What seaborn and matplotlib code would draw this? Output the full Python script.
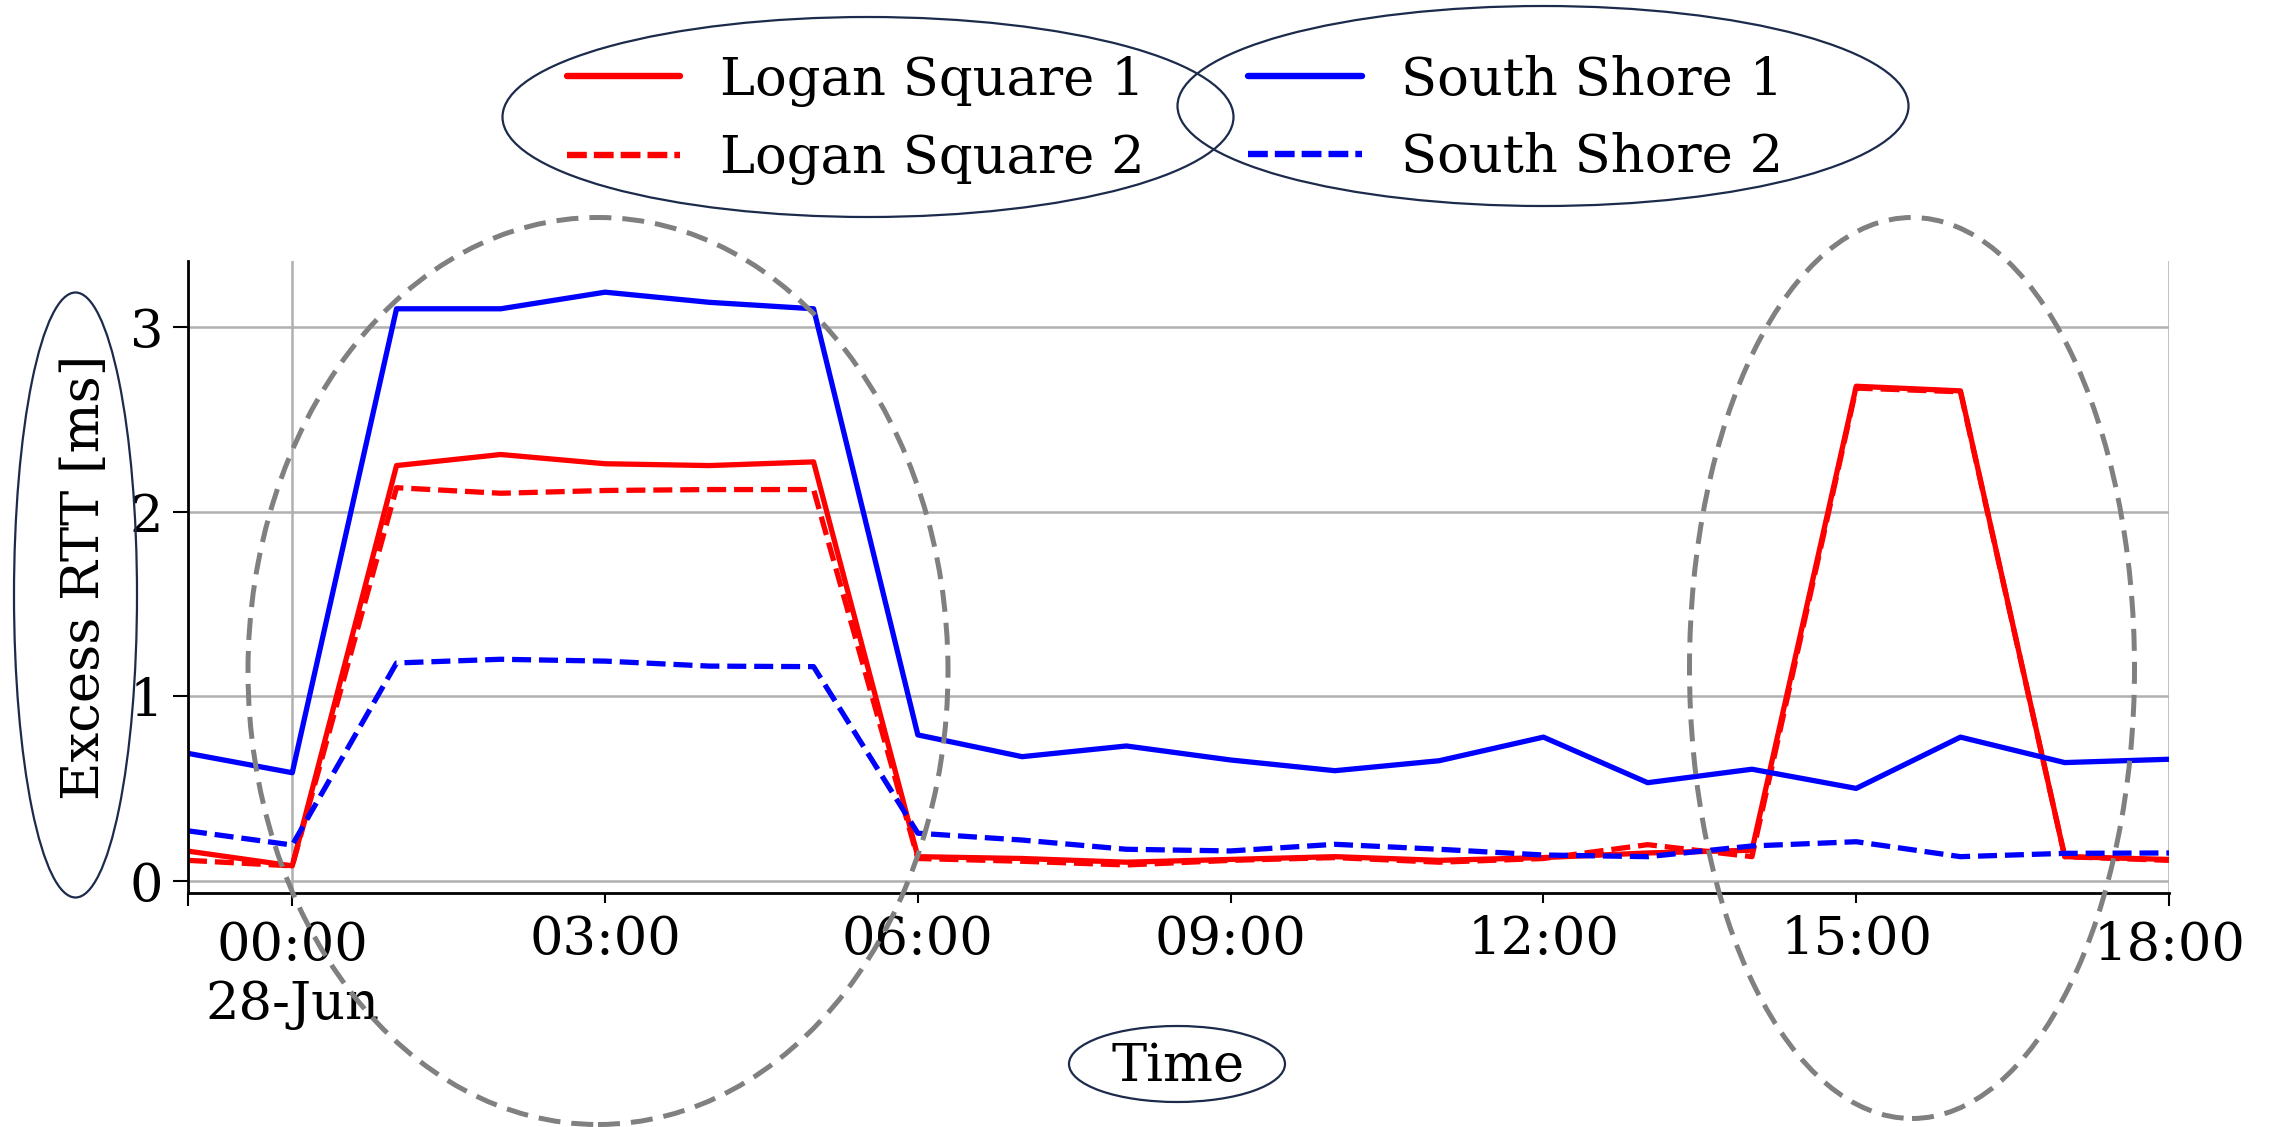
import matplotlib
matplotlib.use("Agg")
import matplotlib.pyplot as plt
import matplotlib.dates as mdates
from matplotlib.lines import Line2D
from matplotlib.patches import Ellipse
from matplotlib.ticker import FixedLocator, FixedFormatter
import numpy as np
import pandas as pd
import seaborn as sns

# Hourly samples, 27-Jun 23:00 .. 28-Jun 18:00
times = pd.date_range("2020-06-27 23:00", "2020-06-28 18:00", freq="h")

series_names = ["Logan Square 1", "Logan Square 2", "South Shore 1", "South Shore 2"]

logan_square_1 = [0.16, 0.08, 2.25, 2.31, 2.26, 2.25, 2.27, 0.13, 0.12, 0.10,
                  0.115, 0.13, 0.11, 0.125, 0.15, 0.165, 2.68, 2.655, 0.13, 0.115]
logan_square_2 = [0.11, 0.08, 2.13, 2.10, 2.115, 2.12, 2.12, 0.12, 0.105, 0.085,
                  0.11, 0.125, 0.10, 0.12, 0.195, 0.13, 2.67, 2.65, 0.13, 0.11]
south_shore_1 = [0.69, 0.585, 3.10, 3.10, 3.19, 3.135, 3.10, 0.79, 0.672, 0.73,
                 0.654, 0.596, 0.65, 0.778, 0.531, 0.604, 0.50, 0.778, 0.64, 0.658]
south_shore_2 = [0.27, 0.193, 1.18, 1.20, 1.19, 1.163, 1.16, 0.257, 0.22, 0.17,
                 0.161, 0.197, 0.17, 0.139, 0.13, 0.188, 0.211, 0.13, 0.148, 0.15]

palette = {"Logan Square 1": "#ff0000", "Logan Square 2": "#ff0000",
           "South Shore 1": "#0000ff", "South Shore 2": "#0000ff"}
dashes = {"Logan Square 1": "", "Logan Square 2": (3.6, 1.5),
          "South Shore 1": "", "South Shore 2": (3.6, 1.5)}

wide = pd.DataFrame({
    "time": times,
    "Logan Square 1": logan_square_1,
    "Logan Square 2": logan_square_2,
    "South Shore 1": south_shore_1,
    "South Shore 2": south_shore_2,
})
long = wide.melt(id_vars="time", var_name="series", value_name="rtt")

sns.set_theme(style="white")
plt.rcParams["font.family"] = ["DejaVu Serif"]
plt.rcParams["text.color"] = "black"
plt.rcParams["axes.labelcolor"] = "black"

FS = 38
W, H = 2270, 1127
fig = plt.figure(figsize=(W / 100, H / 100), dpi=100)
ax = fig.add_axes([188 / W, 1 - 893 / H, (2169 - 188) / W, (893 - 261) / H])

LW = 3.8
sns.lineplot(data=long, x="time", y="rtt", hue="series", style="series",
             hue_order=series_names, style_order=series_names,
             palette=palette, dashes=dashes, linewidth=LW, ax=ax, legend=False)

# axes limits and ticks
ax.set_xlim(times[0], times[-1])
ax.set_ylim(-0.067, 3.359)
ax.set_yticks([0, 1, 2, 3])
ax.set_yticklabels(["0", "1", "2", "3"])

def dnum(s):
    return mdates.date2num(pd.Timestamp(s).to_pydatetime())

major_pos = [dnum("2020-06-27 23:00"), dnum("2020-06-28 00:00"), dnum("2020-06-28 18:00")]
major_lab = ["", "00:00\n28-Jun", "18:00"]
minor_pos = [dnum(f"2020-06-28 {h:02d}:00") for h in (3, 6, 9, 12, 15)]
minor_lab = [f"{h:02d}:00" for h in (3, 6, 9, 12, 15)]
ax.xaxis.set_major_locator(FixedLocator(major_pos))
ax.xaxis.set_major_formatter(FixedFormatter(major_lab))
ax.xaxis.set_minor_locator(FixedLocator(minor_pos))
ax.xaxis.set_minor_formatter(FixedFormatter(minor_lab))

ax.tick_params(axis="x", which="major", bottom=True, length=9.5, width=1.5,
               color="black", labelsize=FS, pad=10, labelcolor="black")
ax.tick_params(axis="x", which="minor", bottom=True, length=7, width=1.5,
               color="black", labelsize=FS, pad=8, labelcolor="black")
ax.tick_params(axis="y", which="major", left=True, length=11, width=1.5,
               color="black", labelsize=FS, pad=7, labelcolor="black")
for lab in ax.get_xticklabels(which="major"):
    lab.set_multialignment("center")

ax.set_axisbelow(True)
ax.grid(True, which="major", axis="both", color="#b0b0b0", linewidth=1.8)

for side in ("top", "right"):
    ax.spines[side].set_visible(False)
for side in ("left", "bottom"):
    ax.spines[side].set_color("black")
    ax.spines[side].set_linewidth(2.0)

ax.set_ylabel("Excess RTT [ms]", fontsize=FS, color="black")
ax.yaxis.set_label_coords((85 - 188) / (2169 - 188), 0.5)
ax.yaxis.label.set_verticalalignment("center")
ax.set_xlabel("Time", fontsize=FS, color="black")
ax.xaxis.set_label_coords(0.5, (893 - 1067) / (893 - 261))
ax.xaxis.label.set_verticalalignment("center")

# legend above the plot, two columns
handles = [Line2D([], [], color=palette[n], linewidth=4.6,
                  linestyle="-" if dashes[n] == "" else (0, (3.1, 1.1)))
           for n in series_names]
fig.legend(handles, series_names, ncol=2, loc="center",
           bbox_to_anchor=(1175 / W, 1 - 120 / H), frameon=False,
           fontsize=FS, handlelength=2.15, columnspacing=1.97,
           labelspacing=0.5, handletextpad=0.74, labelcolor="black")

# highlight ellipses (figure pixel coordinates)
def fig_ellipse(cx, cy, w, h, **kw):
    e = Ellipse((cx / W, 1 - cy / H), w / W, h / H, transform=fig.transFigure,
                fill=False, clip_on=False, **kw)
    fig.add_artist(e)

navy = "#1c2b4b"
fig_ellipse(868, 117, 731, 200, edgecolor=navy, linewidth=1.6, zorder=5)
fig_ellipse(1543, 106, 731, 200, edgecolor=navy, linewidth=1.6, zorder=5)
fig_ellipse(75.5, 595, 123, 605, edgecolor=navy, linewidth=1.6, zorder=5)
fig_ellipse(1177, 1064, 216, 76, edgecolor=navy, linewidth=1.6, zorder=5)

fig_ellipse(598, 671, 700, 907, edgecolor="#808080", linewidth=3.6,
            linestyle=(0, (4.4, 2.2)), zorder=6)
fig_ellipse(1912, 668, 445, 901, edgecolor="#808080", linewidth=3.6,
            linestyle=(0, (4.4, 2.2)), zorder=6)

fig.savefig("out.png", dpi=100, facecolor="white")
